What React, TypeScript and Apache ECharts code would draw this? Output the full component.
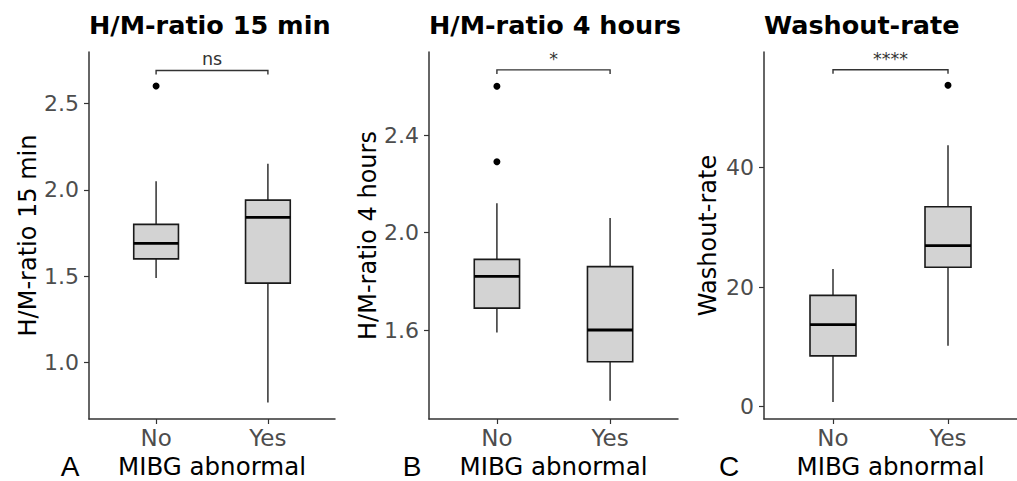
import React, { useEffect, useRef } from "react";
import * as echarts from "echarts";

// ---------- data ----------
const categories = ["No", "Yes"];
const panelTitles = ["H/M-ratio 15 min", "H/M-ratio 4 hours", "Washout-rate"];
const yAxisNames = ["H/M-ratio 15 min", "H/M-ratio 4 hours", "Washout-rate"];
const panelLetters = ["A", "B", "C"];
const xAxisName = "MIBG abnormal";

// [min, Q1, median, Q3, max] per category
const ratio15Boxes = [
  [1.49, 1.6, 1.69, 1.8, 2.05],
  [0.77, 1.46, 1.84, 1.94, 2.15],
];
const ratio15Outliers = [[1, 2.6]];
const ratio4hBoxes = [
  [1.59, 1.69, 1.82, 1.89, 2.12],
  [1.31, 1.47, 1.6, 1.86, 2.06],
];
const ratio4hOutliers = [
  [1, 2.6],
  [1, 2.29],
];
const washoutBoxes = [
  [0.8, 8.5, 13.7, 18.6, 23.0],
  [10.2, 23.3, 26.9, 33.4, 43.7],
];
const washoutOutliers = [[2, 53.7]];

const sigLabels = ["ns", "*", "****"];
const sigBracketY = [2.69, 2.667, 56.3];

const ratio15Ticks = [1.0, 1.5, 2.0, 2.5];
const ratio4hTicks = [1.6, 2.0, 2.4];
const washoutTicks = [0, 20, 40];
const yRanges = [
  [0.674, 2.797],
  [1.235, 2.7405],
  [-2.055, 59.27],
];
const tickDecimals = [1, 1, 0];

// ---------- layout / style ----------
const FONT = "DejaVu Sans";
const grids = [
  { left: 89, top: 52, width: 246, height: 367 },
  { left: 429, top: 52, width: 249, height: 367 },
  { left: 764, top: 52, width: 253, height: 367 },
];
const yNameGaps = [47, 47, 44];
const letterPos = [
  [70, 466],
  [412, 466],
  [729, 466],
];
const BOX_W = 0.4;

export default function App() {
  const ref = useRef<HTMLDivElement>(null);

  useEffect(() => {
    document.body.style.margin = "0";
    if (!ref.current) return;
    const chart = echarts.init(ref.current, undefined, { renderer: "svg" });

    const boxSets = [ratio15Boxes, ratio4hBoxes, washoutBoxes];
    const outlierSets = [ratio15Outliers, ratio4hOutliers, washoutOutliers];
    const tickSets = [ratio15Ticks, ratio4hTicks, washoutTicks];

    const renderBox = (params: any, api: any) => {
      const x = api.value(0);
      const lo = api.value(1);
      const q1 = api.value(2);
      const med = api.value(3);
      const q3 = api.value(4);
      const hi = api.value(5);
      const pLo = api.coord([x, lo]);
      const pQ1 = api.coord([x, q1]);
      const pMed = api.coord([x, med]);
      const pQ3 = api.coord([x, q3]);
      const pHi = api.coord([x, hi]);
      const left = api.coord([x - BOX_W / 2, q1])[0];
      const right = api.coord([x + BOX_W / 2, q1])[0];
      const cx = pMed[0];
      return {
        type: "group",
        children: [
          {
            type: "line",
            shape: { x1: cx, y1: pHi[1], x2: cx, y2: pQ3[1] },
            style: { stroke: "#222", lineWidth: 1.4 },
          },
          {
            type: "line",
            shape: { x1: cx, y1: pQ1[1], x2: cx, y2: pLo[1] },
            style: { stroke: "#222", lineWidth: 1.4 },
          },
          {
            type: "rect",
            shape: { x: left, y: pQ3[1], width: right - left, height: pQ1[1] - pQ3[1] },
            style: { fill: "#d3d3d3", stroke: "#1a1a1a", lineWidth: 1.6 },
          },
          {
            type: "line",
            shape: { x1: left, y1: pMed[1], x2: right, y2: pMed[1] },
            style: { stroke: "#000", lineWidth: 2.8 },
          },
        ],
      };
    };

    const renderBracket = (params: any, api: any) => {
      const y = api.value(2);
      const p1 = api.coord([api.value(0), y]);
      const p2 = api.coord([api.value(1), y]);
      const label = sigLabels[api.value(3)];
      return {
        type: "group",
        children: [
          {
            type: "polyline",
            shape: {
              points: [
                [p1[0], p1[1] + 4],
                [p1[0], p1[1]],
                [p2[0], p2[1]],
                [p2[0], p2[1] + 4],
              ],
            },
            style: { stroke: "#333", lineWidth: 1.4, fill: "none" },
          },
          {
            type: "text",
            x: (p1[0] + p2[0]) / 2,
            y: p1[1] - 2,
            style: {
              text: label,
              fill: "#333",
              fontFamily: FONT,
              fontSize: 17.5,
              align: "center",
              verticalAlign: "bottom",
            },
          },
        ],
      };
    };

    const series: any[] = [];
    const xAxes: any[] = [];
    const yAxes: any[] = [];
    const titles: any[] = [];

    for (let i = 0; i < 3; i++) {
      xAxes.push({
        type: "value",
        gridIndex: i,
        min: 0.4,
        max: 2.6,
        splitLine: { show: false },
        axisLine: { show: true, onZero: false, lineStyle: { color: "#333", width: 1.5 } },
        axisTick: {
          show: true,
          customValues: [1, 2],
          length: 5,
          lineStyle: { color: "#333", width: 1.2 },
        },
        axisLabel: {
          customValues: [1, 2],
          formatter: (v: number) => categories[Math.round(v) - 1],
          color: "#4d4d4d",
          fontFamily: FONT,
          fontSize: 23,
          margin: 7,
        },
        name: xAxisName,
        nameLocation: "middle",
        nameGap: 34,
        nameTextStyle: { color: "#000", fontFamily: FONT, fontSize: 24.5 },
      });
      const dec = tickDecimals[i];
      yAxes.push({
        type: "value",
        gridIndex: i,
        min: yRanges[i][0],
        max: yRanges[i][1],
        splitLine: { show: false },
        axisLine: { show: true, onZero: false, lineStyle: { color: "#333", width: 1.5 } },
        axisTick: {
          show: true,
          customValues: tickSets[i],
          length: 5,
          lineStyle: { color: "#333", width: 1.2 },
        },
        axisLabel: {
          customValues: tickSets[i],
          formatter: (v: number) => v.toFixed(dec),
          color: "#4d4d4d",
          fontFamily: FONT,
          fontSize: 22,
          margin: 10,
        },
        name: yAxisNames[i],
        nameLocation: "middle",
        nameRotate: 90,
        nameGap: yNameGaps[i],
        nameTextStyle: { color: "#000", fontFamily: FONT, fontSize: 24 },
      });
      titles.push({
        text: panelTitles[i],
        left: grids[i].left,
        top: 12,
        padding: 0,
        textStyle: { fontFamily: FONT, fontWeight: "bold", fontSize: 25.5, color: "#000" },
      });

      series.push({
        type: "custom",
        xAxisIndex: i,
        yAxisIndex: i,
        renderItem: renderBox,
        encode: { x: 0, y: [1, 2, 3, 4, 5] },
        data: boxSets[i].map((b, k) => [k + 1, ...b]),
        z: 2,
      });
      series.push({
        type: "scatter",
        xAxisIndex: i,
        yAxisIndex: i,
        symbolSize: 7,
        itemStyle: { color: "#000", opacity: 1 },
        data: outlierSets[i],
        z: 3,
      });
      series.push({
        type: "custom",
        xAxisIndex: i,
        yAxisIndex: i,
        renderItem: renderBracket,
        encode: { x: [0, 1], y: 2 },
        data: [[1, 2, sigBracketY[i], i]],
        clip: false,
        z: 4,
      });
    }

    chart.setOption({
      animation: false,
      backgroundColor: "#fff",
      title: titles,
      grid: grids.map((g) => ({ ...g, containLabel: false, outerBoundsMode: "none" })),
      xAxis: xAxes,
      yAxis: yAxes,
      series,
      graphic: panelLetters.map((t, i) => ({
        type: "text",
        x: letterPos[i][0],
        y: letterPos[i][1],
        style: {
          text: t,
          fill: "#000",
          fontFamily: "Liberation Sans",
          fontSize: 28,
          align: "center",
          verticalAlign: "middle",
        },
      })),
    });

    return () => chart.dispose();
  }, []);

  return <div ref={ref} style={{ width: 1017, height: 481 }} />;
}
